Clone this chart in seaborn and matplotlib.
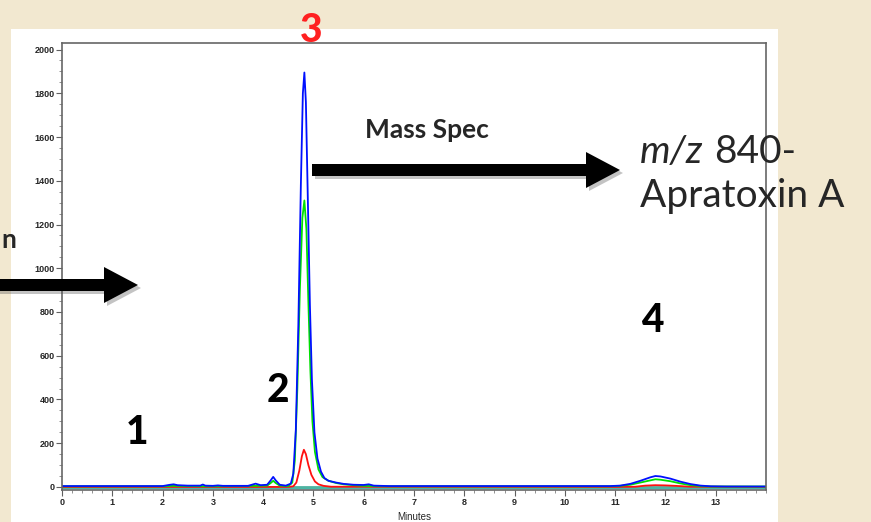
import numpy as np
import pandas as pd
import matplotlib
matplotlib.use("Agg")
import matplotlib.pyplot as plt
from matplotlib.patches import Rectangle, FancyArrow
from matplotlib.ticker import MultipleLocator
import seaborn as sns

# ---------------------------------------------------------------------------
# Chromatogram traces (time in minutes, intensity)
# ---------------------------------------------------------------------------
blue_t = [0, 2.0, 2.15, 2.22, 2.3, 2.5, 2.75, 2.8, 2.85, 3.0, 3.1, 3.2, 3.7, 3.85, 3.95,
          4.08, 4.15, 4.2, 4.25, 4.33, 4.45, 4.55, 4.6, 4.65, 4.7, 4.75, 4.79, 4.82, 4.85,
          4.89, 4.93, 4.97, 5.02, 5.08, 5.15, 5.22, 5.3, 5.45, 5.6, 5.8, 6.0, 6.1, 6.2, 6.5,
          10.9, 11.1, 11.3, 11.5, 11.7, 11.8, 11.9, 12.1, 12.3, 12.5, 12.7, 12.9, 13.2, 14.0]
blue_y = [4, 4, 10, 12, 8, 6, 6, 11, 6, 5, 7, 5, 5, 15, 8,
          10, 30, 46, 30, 10, 6, 15, 60, 260, 740, 1380, 1800, 1895, 1760,
          1300, 830, 490, 250, 130, 70, 40, 28, 20, 14, 10, 9, 12, 6, 4,
          4, 6, 14, 28, 44, 50, 48, 38, 24, 13, 6, 3, 2, 2]

green_t = [0, 2.0, 2.2, 2.5, 3.0, 3.8, 4.08, 4.15, 4.2, 4.25, 4.33, 4.5, 4.58, 4.63, 4.68,
           4.73, 4.78, 4.82, 4.86, 4.9, 4.94, 4.98, 5.03, 5.1, 5.18, 5.3, 5.45, 5.6, 5.8,
           6.0, 6.5, 10.9, 11.1, 11.3, 11.5, 11.7, 11.8, 11.9, 12.1, 12.3, 12.5, 12.7, 12.9, 14.0]
green_y = [3, 3, 5, 4, 3, 5, 6, 18, 28, 18, 6, 4, 20, 120, 450,
           900, 1230, 1310, 1180, 840, 530, 300, 160, 80, 45, 28, 18, 12, 8,
           5, 3, 3, 5, 10, 20, 30, 35, 33, 26, 16, 8, 4, 2, 2]

red_t = [0, 4.5, 4.6, 4.66, 4.72, 4.77, 4.81, 4.85, 4.9, 4.96, 5.03, 5.1, 5.2, 5.35,
         11.0, 11.4, 11.6, 11.8, 12.0, 12.2, 12.5, 14.0]
red_y = [0, 0, 3, 20, 75, 140, 170, 150, 100, 55, 25, 12, 5, 1,
         0, 1, 6, 8, 7, 5, 1, 0]

cyan_t = [0, 14.0]
cyan_y = [-4, -4]
teal_t = [0, 14.0]
teal_y = [1, 1]

x_ticks = list(range(0, 14))
y_ticks = list(range(0, 2001, 200))

# draw order: bottom first
traces = [("cyan", cyan_t, cyan_y), ("teal", teal_t, teal_y),
          ("red", red_t, red_y), ("green", green_t, green_y), ("blue", blue_t, blue_y)]
colors = {"cyan": "#00E5F0", "teal": "#4FB3A0", "red": "#FF1010",
          "green": "#00E000", "blue": "#0010FF"}
widths = {"cyan": 1.6, "teal": 2.0, "red": 1.3, "green": 1.3, "blue": 1.3}

df = pd.concat([pd.DataFrame({"Minutes": t, "Intensity": y, "trace": name})
                for name, t, y in traces], ignore_index=True)

# ---------------------------------------------------------------------------
# Figure
# ---------------------------------------------------------------------------
sns.set_style("white")
plt.rcParams["font.family"] = ["Liberation Sans", "DejaVu Sans"]

W, H = 871, 522
fig = plt.figure(figsize=(W / 100, H / 100), dpi=100)
fig.patch.set_facecolor("#F2E8D0")

def fx(x):
    return x / W

def fy(y):
    return 1 - y / H

# white panel behind the chart
fig.add_artist(Rectangle((fx(11), 0), fx(778) - fx(11), fy(29), transform=fig.transFigure,
                         facecolor="white", edgecolor="none", zorder=0))

ax = fig.add_axes([fx(62), fy(490), fx(766) - fx(62), fy(43) - fy(490)])
ax.set_facecolor("white")

for name, _, _ in traces:
    sns.lineplot(data=df[df["trace"] == name], x="Minutes", y="Intensity",
                 color=colors[name], lw=widths[name], estimator=None, sort=False, ax=ax)

ax.set_xlim(0, 14)
ax.set_ylim(-14, 2030)
ax.set_xticks(x_ticks)
ax.set_yticks(y_ticks)
ax.xaxis.set_minor_locator(MultipleLocator(0.2))
ax.yaxis.set_minor_locator(MultipleLocator(50))
ax.tick_params(which="major", direction="out", length=4, width=0.8, color="#606060",
               labelsize=6.5, pad=1.5, bottom=True, left=True)
ax.tick_params(which="minor", direction="out", length=2, width=0.6, color="#808080",
               bottom=True, left=True)
for lab in ax.get_xticklabels() + ax.get_yticklabels():
    lab.set_fontweight("bold")
ax.set_ylabel("")
ax.set_xlabel("Minutes", fontsize=7, labelpad=4)
for sp in ax.spines.values():
    sp.set_visible(True)
    sp.set_color("#666666")
    sp.set_linewidth(1.2)

# ---------------------------------------------------------------------------
# Slide annotations (drawn in pixel-like inches so arrows keep their shape)
# ---------------------------------------------------------------------------
tr = fig.dpi_scale_trans

def arrow(x0, x1, y, shaft, head_w, head_l):
    yi = (H - y) / 100
    for off, col, a in [((0.03, -0.03), "#555555", 0.35), ((0, 0), "black", 1.0)]:
        fig.add_artist(FancyArrow(x0 / 100 + off[0], yi + off[1], (x1 - x0) / 100, 0,
                                  width=shaft / 100, head_width=head_w / 100,
                                  head_length=head_l / 100, length_includes_head=True,
                                  transform=tr, color=col, alpha=a, lw=0, zorder=5))

arrow(312, 620, 170, 12, 36, 34)
arrow(-5, 138, 285, 12, 36, 34)

big = dict(family=["Lato", "DejaVu Sans"], fontweight="black", fontsize=28,
           ha="center", va="center", zorder=6)
fig.text(fx(311), fy(30), "3", color="#FF2020", **big)
fig.text(fx(137), fy(432), "1", color="black", **big)
fig.text(fx(278), fy(390), "2", color="black", **big)
fig.text(fx(652), fy(320), "4", color="black", **big)

fig.text(fx(365), fy(130), "Mass Spec", family=["Lato", "DejaVu Sans"], fontweight="bold",
         fontsize=19, ha="left", va="center", zorder=6)
fig.text(fx(16), fy(240), "n", family=["Lato", "DejaVu Sans"], fontweight="bold",
         fontsize=19, ha="right", va="center", zorder=6)

lbl = dict(family=["Lato", "DejaVu Sans"], fontsize=28, va="center", zorder=6)
fig.text(fx(640), fy(152), "m/z", style="italic", ha="left", **lbl)
fig.text(fx(714), fy(152), "840-", ha="left", **lbl)
fig.text(fx(640), fy(196), "Apratoxin A", ha="left", **lbl)

fig.savefig("out.png", dpi=100, facecolor=fig.get_facecolor())
plt.close(fig)
